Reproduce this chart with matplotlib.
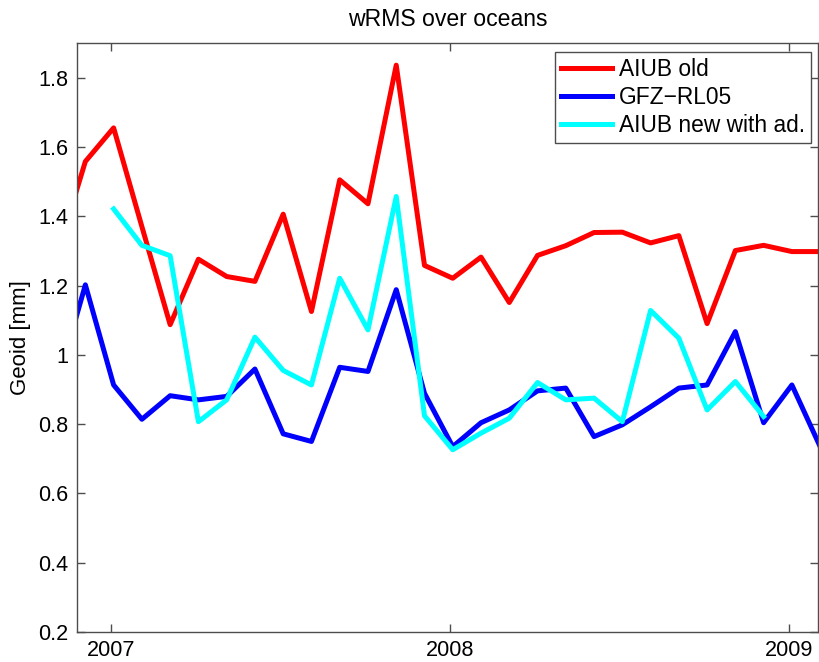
import numpy as np
import matplotlib
matplotlib.use("Agg")
import matplotlib.pyplot as plt

plt.rcParams['font.family'] = ['Liberation Sans', 'DejaVu Sans']

# monthly solutions, Nov 2006 .. Feb 2009
months = np.arange(28)
t = 2006 + (10 + months) / 12.0 + 0.008

aiub_old = [1.29, 1.558, 1.655, 1.37, 1.087, 1.276, 1.226, 1.212, 1.406, 1.125,
            1.505, 1.436, 1.836, 1.258, 1.221, 1.282, 1.151, 1.287, 1.315, 1.353,
            1.354, 1.323, 1.344, 1.090, 1.301, 1.316, 1.298, 1.298]
gfz_rl05 = [0.915, 1.202, 0.913, 0.814, 0.882, 0.870, 0.880, 0.959, 0.772, 0.750,
            0.964, 0.952, 1.188, 0.889, 0.735, 0.804, 0.841, 0.896, 0.904, 0.764,
            0.798, 0.850, 0.904, 0.913, 1.067, 0.804, 0.913, 0.735]
# new AIUB only from Jan 2007 to Dec 2008
aiub_new = [np.nan, np.nan, 1.421, 1.316, 1.286, 0.807, 0.870, 1.051, 0.955, 0.913,
            1.221, 1.072, 1.457, 0.824, 0.726, 0.774, 0.817, 0.920, 0.870, 0.875,
            0.807, 1.128, 1.048, 0.841, 0.923, 0.822, np.nan, np.nan]

fig = plt.figure(figsize=(8.19, 6.62), dpi=100)
ax = fig.add_axes([77/819, 1 - 632/662, 741/819, 589/662])

lw = 3.6
ax.plot(t, aiub_old, color='#ff0000', lw=lw, label='AIUB old')
ax.plot(t, gfz_rl05, color='#0000ff', lw=lw, label='GFZ\u2212RL05')
ax.plot(t, aiub_new, color='#00ffff', lw=lw, label='AIUB new with ad.')

ax.set_xlim(2006.9, 2009.085)
ax.set_ylim(0.2, 1.9)
ax.set_xticks([2007, 2008, 2009])
ax.set_xticklabels(['2007', '2008', '2009'])
ax.set_yticks(np.arange(0.2, 1.81, 0.2))
ax.set_yticklabels(['0.2', '0.4', '0.6', '0.8', '1', '1.2', '1.4', '1.6', '1.8'])

edge = '#4d4d4d'
for s in ax.spines.values():
    s.set_color(edge)
    s.set_linewidth(1.0)
ax.tick_params(direction='in', length=6, width=1, color=edge, labelsize=15.6,
               top=True, right=True, pad=6)

ax.set_title('wRMS over oceans', fontsize=16.6, pad=12)
ax.set_ylabel('Geoid [mm]', fontsize=16, labelpad=5)

leg = ax.legend(loc='upper right', bbox_to_anchor=(0.990, 0.985), borderaxespad=0,
                fontsize=16.4, fancybox=False, framealpha=1, edgecolor=edge,
                handlelength=2.24, handletextpad=0.3, labelspacing=0.24,
                borderpad=0.25)
leg.get_frame().set_linewidth(1.0)

fig.savefig('out.png', dpi=100)
